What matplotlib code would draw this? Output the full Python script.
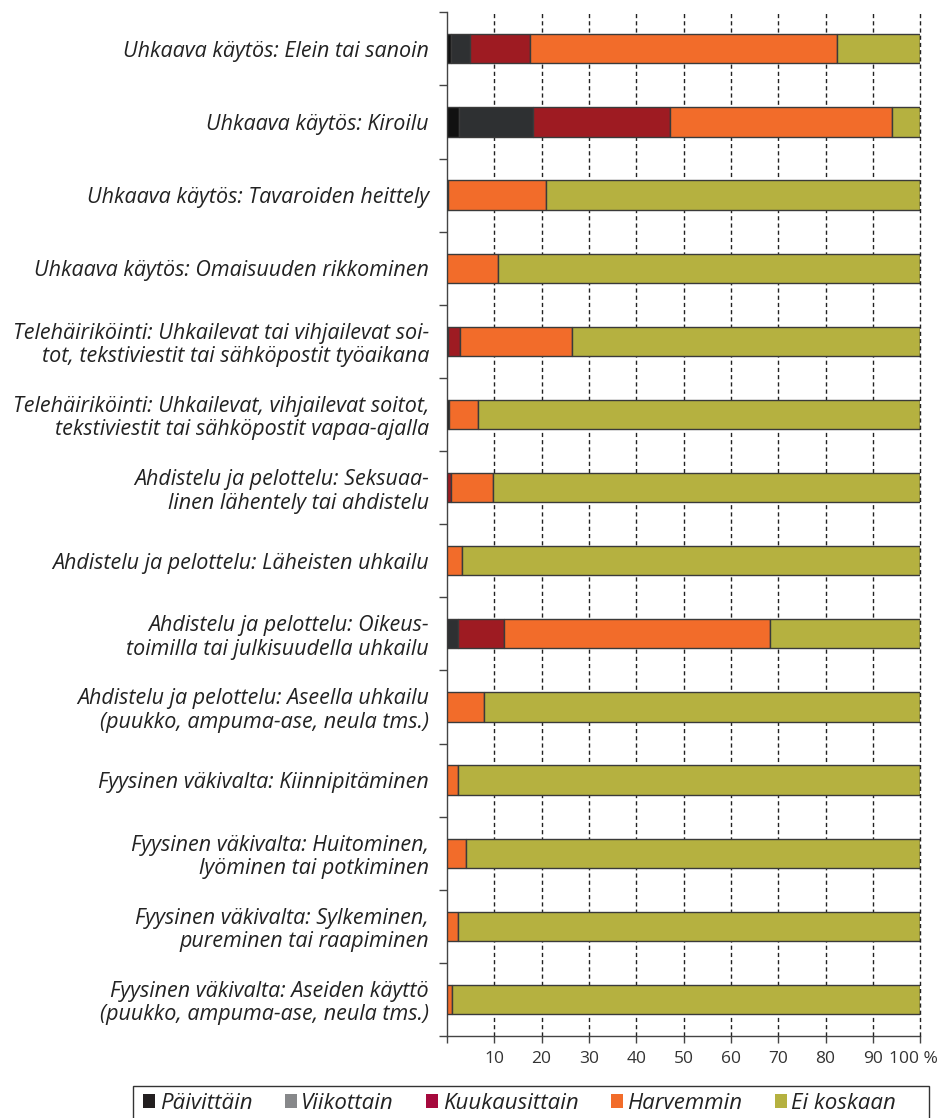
import matplotlib
matplotlib.use('Agg')
import matplotlib.pyplot as plt
import numpy as np
from matplotlib.patches import Patch, Rectangle
from matplotlib.transforms import ScaledTranslation

# Categories, top to bottom
categories = [
    "Uhkaava käytös: Elein tai sanoin",
    "Uhkaava käytös: Kiroilu",
    "Uhkaava käytös: Tavaroiden heittely",
    "Uhkaava käytös: Omaisuuden rikkominen",
    "Telehäiriköinti: Uhkailevat tai vihjailevat soi-\ntot, tekstiviestit tai sähköpostit työaikana",
    "Telehäiriköinti: Uhkailevat, vihjailevat soitot,\ntekstiviestit tai sähköpostit vapaa-ajalla",
    "Ahdistelu ja pelottelu: Seksuaa-\nlinen lähentely tai ahdistelu",
    "Ahdistelu ja pelottelu: Läheisten uhkailu",
    "Ahdistelu ja pelottelu: Oikeus-\ntoimilla tai julkisuudella uhkailu",
    "Ahdistelu ja pelottelu: Aseella uhkailu\n(puukko, ampuma-ase, neula tms.)",
    "Fyysinen väkivalta: Kiinnipitäminen",
    "Fyysinen väkivalta: Huitominen,\nlyöminen tai potkiminen",
    "Fyysinen väkivalta: Sylkeminen,\npureminen tai raapiminen",
    "Fyysinen väkivalta: Aseiden käyttö\n(puukko, ampuma-ase, neula tms.)",
]

# Shares (%) per frequency
paivittain    = [0.8, 2.5, 0.2, 0.0, 0.3, 0.4, 0.0, 0.0, 0.0, 0.0, 0.0, 0.0, 0.0, 0.0]
viikottain    = [4.1, 15.7, 0.0, 0.0, 0.0, 0.0, 0.0, 0.0, 2.3, 0.0, 0.0, 0.0, 0.0, 0.0]
kuukausittain = [12.6, 28.9, 0.0, 0.0, 2.4, 0.0, 0.9, 0.0, 9.7, 0.0, 0.0, 0.0, 0.0, 0.0]
harvemmin     = [65.0, 47.0, 20.7, 10.8, 23.7, 6.2, 8.9, 3.2, 56.3, 7.8, 2.4, 4.0, 2.4, 1.1]
ei_koskaan    = [17.5, 5.9, 79.1, 89.2, 73.6, 93.4, 90.2, 96.8, 31.7, 92.2, 97.6, 96.0, 97.6, 98.9]

series_names = ["Päivittäin", "Viikottain", "Kuukausittain", "Harvemmin", "Ei koskaan"]
series = [paivittain, viikottain, kuukausittain, harvemmin, ei_koskaan]
bar_colors = ["#111111", "#2e3032", "#9e1b22", "#f26c2a", "#b5b140"]
legend_colors = ["#231f20", "#87888a", "#a6093d", "#f26c2a", "#b5b140"]

xticks = [0, 10, 20, 30, 40, 50, 60, 70, 80, 90, 100]
xticklabels = ["", "10", "20", "30", "40", "50", "60", "70", "80", "90", "100 %"]

plt.rcParams['font.family'] = ['Open Sans', 'DejaVu Sans']

fig = plt.figure(figsize=(9.39, 11.18), dpi=100)
ax = fig.add_axes([0.476, 0.0733, 0.504, 0.9157])

n = len(categories)
y = np.arange(n)
left = np.zeros(n)
for vals, col in zip(series, bar_colors):
    vals = np.array(vals)
    ax.barh(y, vals, left=left, height=0.4, color=col,
            edgecolor="#3a3a3a", linewidth=1.0, zorder=3)
    left += vals

ax.set_xlim(0, 100)
ax.set_ylim(n - 0.5, -0.5)

# gridlines (the 100 line sits on top of the bar ends)
for xv in xticks[1:]:
    ax.axvline(xv, color="#222222", linestyle=(0, (3.0, 2.2)), linewidth=1.0,
               zorder=4 if xv == 100 else 1, clip_on=False)

for s in ["top", "right"]:
    ax.spines[s].set_visible(False)
for s in ["left", "bottom"]:
    ax.spines[s].set_color("#444444")
    ax.spines[s].set_linewidth(1.0)

ax.set_xticks(xticks)
ax.set_xticklabels(xticklabels, fontsize=12.5, color="#333333")
ax.tick_params(axis="x", direction="out", length=5, width=1, color="#444444", pad=6)

ax.set_yticks(y)
ax.set_yticklabels(categories, fontsize=15.5, style="italic", color="#222222",
                   linespacing=1.15)
ax.tick_params(axis="y", which="major", length=0, pad=13)
ax.set_yticks(np.arange(-0.5, n, 1.0), minor=True)
ax.tick_params(axis="y", which="minor", direction="out", length=6, width=1, color="#444444")

# shift the "100 %" label a little left
lab = ax.get_xticklabels()[-1]
lab.set_transform(lab.get_transform() + ScaledTranslation(-0.07, 0, fig.dpi_scale_trans))

# legend box (runs off the bottom edge like in the original)
fig.patches.append(Rectangle((133 / 939, -0.02), (929 - 133) / 939, 0.02 + 1 - 1086 / 1118,
                             transform=fig.transFigure, facecolor="white",
                             edgecolor="#333333", linewidth=1.0))

handles = [Patch(facecolor=c, edgecolor="none") for c in legend_colors]
leg = fig.legend(handles, series_names, loc="upper left", ncol=5,
                 bbox_to_anchor=(133 / 939, 1 - 1083 / 1118),
                 borderaxespad=0, frameon=False, handlelength=0.55, handleheight=0.55,
                 handletextpad=0.2, borderpad=0.45, columnspacing=1.45,
                 prop={"size": 16, "style": "italic"})
for t in leg.get_texts():
    t.set_color("#222222")

fig.savefig("out.png", dpi=100)
